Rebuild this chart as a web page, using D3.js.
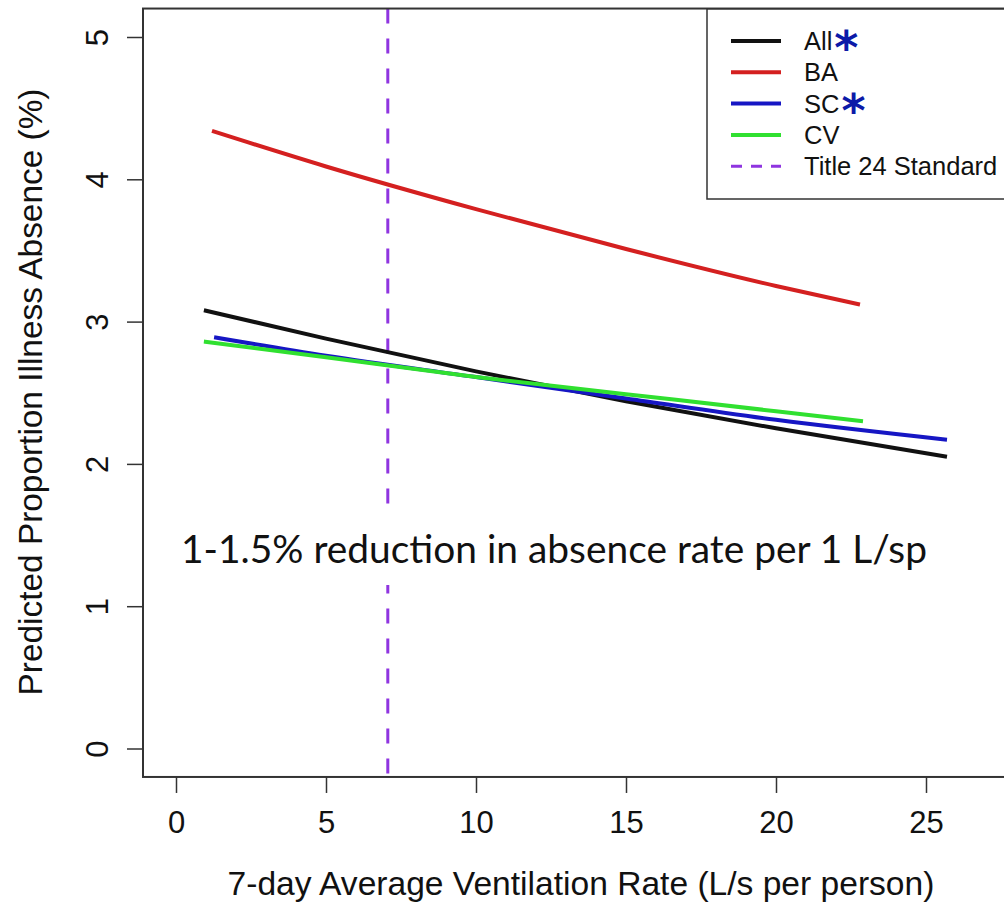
<!DOCTYPE html>
<html>
<head>
<meta charset="utf-8">
<script src="https://cdn.jsdelivr.net/npm/d3@7"></script>
<style>
  body { margin: 0; background: #fff; }
  svg { display: block; }
  .tick text { font-family: "Liberation Sans", Arial, sans-serif; font-size: 31px; fill: #111; }
</style>
</head>
<body>
<svg id="chart" width="1004" height="905"></svg>
<script>
// predicted proportion illness absence (%) by 7-day ventilation rate (L/s per person)
const seriesNames = ['All', 'BA', 'SC', 'CV'];
const seriesColors = ['#111111', '#d42020', '#1616c4', '#30e030'];
const allX = [0.93, 5, 10, 15, 20, 25.7];
const allY = [3.08, 2.88, 2.65, 2.44, 2.25, 2.05];
const baX = [1.2, 5, 10, 15, 20, 22.8];
const baY = [4.34, 4.09, 3.79, 3.51, 3.25, 3.12];
const scX = [1.27, 5, 10, 15, 20, 25.7];
const scY = [2.89, 2.76, 2.61, 2.46, 2.31, 2.17];
const cvX = [0.93, 5, 10, 15, 20, 22.9];
const cvY = [2.86, 2.75, 2.61, 2.49, 2.37, 2.30];
const starred = ['All', 'SC'];
const title24 = 7.06;
const xTicks = [0, 5, 10, 15, 20, 25];
const yTicks = [0, 1, 2, 3, 4, 5];
const note = '1-1.5% reduction in absence rate per 1 L/sp';

const svg = d3.select('#chart');
const x = d3.scaleLinear().domain([0, 25]).range([176, 926]);
const y = d3.scaleLinear().domain([0, 5]).range([748.5, 37]);
const xlim = [-1.1, 28.9], ylim = [-0.2, 5.2];

// vertical reference line (Title 24)
svg.append('line')
  .attr('x1', x(title24)).attr('x2', x(title24))
  .attr('y1', y(ylim[1])).attr('y2', y(ylim[0]))
  .attr('stroke', '#8f35e0').attr('stroke-width', 3)
  .attr('stroke-dasharray', '15,15');

const xs = [allX, baX, scX, cvX], ys = [allY, baY, scY, cvY];
const line = d3.line().x(d => x(d[0])).y(d => y(d[1])).curve(d3.curveMonotoneX);
seriesNames.forEach((name, i) => {
  svg.append('path')
    .datum(d3.zip(xs[i], ys[i]))
    .attr('d', line)
    .attr('fill', 'none')
    .attr('stroke', seriesColors[i])
    .attr('stroke-width', 4);
});

// annotation with white backing
svg.append('rect')
  .attr('x', 170).attr('y', 515).attr('width', 770).attr('height', 70)
  .attr('fill', '#fff');
svg.append('text')
  .attr('x', 181).attr('y', 563)
  .attr('textLength', 746).attr('lengthAdjust', 'spacingAndGlyphs')
  .style('font-family', 'Lato, "Open Sans", sans-serif')
  .style('font-size', '38px').style('fill', '#111')
  .text(note);

// plot box
svg.append('rect')
  .attr('x', x(xlim[0])).attr('y', y(ylim[1]))
  .attr('width', x(xlim[1]) - x(xlim[0])).attr('height', y(ylim[0]) - y(ylim[1]))
  .attr('fill', 'none').attr('stroke', '#333').attr('stroke-width', 2);

// axes
const xAxis = svg.append('g')
  .attr('transform', 'translate(0,' + y(ylim[0]) + ')')
  .call(d3.axisBottom(x).tickValues(xTicks).tickFormat(d3.format('d')).tickSize(16).tickPadding(0));
xAxis.select('.domain').remove();
xAxis.selectAll('line').attr('stroke', '#333').attr('stroke-width', 1.5);
xAxis.selectAll('text').attr('y', 56).attr('dy', 0);

const yAxis = svg.append('g')
  .attr('transform', 'translate(' + x(xlim[0]) + ',0)')
  .call(d3.axisLeft(y).tickValues(yTicks).tickFormat(d3.format('d')).tickSize(16));
yAxis.select('.domain').remove();
yAxis.selectAll('line').attr('stroke', '#333').attr('stroke-width', 1.5);
yAxis.selectAll('text')
  .attr('transform', 'rotate(-90)')
  .attr('x', 0).attr('y', -35).attr('dy', 0)
  .attr('text-anchor', 'middle');

// axis titles
svg.append('text')
  .attr('x', 581).attr('y', 895)
  .attr('text-anchor', 'middle')
  .style('font-family', '"Liberation Sans", Arial, sans-serif')
  .style('font-size', '33.6px').style('fill', '#111')
  .text('7-day Average Ventilation Rate (L/s per person)');
svg.append('text')
  .attr('transform', 'translate(42,392) rotate(-90)')
  .attr('text-anchor', 'middle')
  .style('font-family', '"Liberation Sans", Arial, sans-serif')
  .style('font-size', '33.4px').style('fill', '#111')
  .text('Predicted Proportion Illness Absence (%)');

// legend
const legend = svg.append('g');
legend.append('rect')
  .attr('x', 707).attr('y', 9).attr('width', 340).attr('height', 190)
  .attr('fill', '#fff').attr('stroke', '#333').attr('stroke-width', 1.5);
const legendNames = seriesNames.concat(['Title 24 Standard']);
const legendColors = seriesColors.concat(['#8f35e0']);
legendNames.forEach((name, i) => {
  const ly = 41 + i * 31.3;
  legend.append('line')
    .attr('x1', 731).attr('x2', 781).attr('y1', ly).attr('y2', ly)
    .attr('stroke', legendColors[i])
    .attr('stroke-width', i < 4 ? 4 : 3)
    .attr('stroke-dasharray', i < 4 ? null : '11,9');
  const t = legend.append('text')
    .attr('x', 804).attr('y', ly + 9)
    .style('font-family', '"Liberation Sans", Arial, sans-serif')
    .style('font-size', '25.5px').style('fill', '#111')
    .text(name);
  if (starred.includes(name)) {
    const w = t.node().getComputedTextLength();
    legend.append('text')
      .attr('x', 804 + w + 14).attr('y', ly + 23)
      .attr('text-anchor', 'middle')
      .style('font-family', '"DejaVu Sans", sans-serif')
      .style('font-weight', 'bold')
      .style('font-size', '46px').style('fill', '#0c1aa8')
      .text('*');
  }
});
</script>
</body>
</html>
